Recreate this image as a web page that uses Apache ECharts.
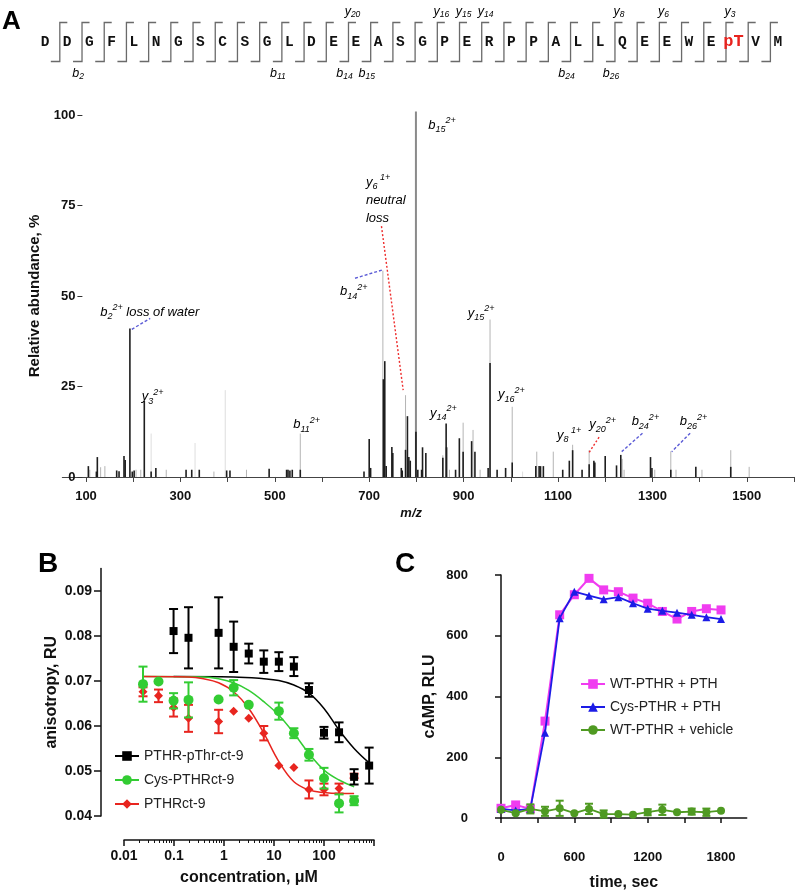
<!DOCTYPE html>
<html>
<head>
<meta charset="utf-8">
<script src="https://cdn.jsdelivr.net/npm/echarts@6/dist/echarts.min.js"></script>
<style>
html,body{margin:0;padding:0;background:#fff;}
#chart{width:800px;height:892px;}
</style>
</head>
<body>
<div id="chart"></div>
<script>
// ===== Panel A: peptide sequence with fragment ions =====
const residues = ['D','D','G','F','L','N','G','S','C','S','G','L','D','E','E','A','S','G','P','E','R','P','P','A','L','L','Q','E','E','W','E','pT','V','M'];
const bIonSites = [2, 11, 14, 15, 24, 26];          // cleavage after residue n
const bIonNumbers = [2, 11, 14, 15, 24, 26];
const yIonSites = [14, 18, 19, 20, 26, 28, 31];
const yIonNumbers = [20, 16, 15, 14, 8, 6, 3];

// ===== Panel A: MS/MS spectrum =====
const darkMz  = [105,122,124,165,170,180.5,183,193,198,202,223.5,238,248,312,324,340,398,405,488,525,528,532,537,554,689,700,703,730,733,736,748,750,768,770,777,781,784,787,799,803,811,813,820,856,863,864,883,891,899,917,924,952,956,971,989,1003,1053,1060,1063,1069,1110,1124,1131,1151,1166,1176,1178,1200,1224,1233,1296,1299,1339,1392,1466];
const darkInt = [3,1.5,5.5,1.8,1.6,5.8,4.7,41,1.5,1.8,21,1.5,2.5,2,2,2,1.8,1.8,2.3,2,2,1.8,2,2,1.5,10.5,2.5,27,32,3,8.3,6.6,2.5,1.8,7.5,16.8,5.5,4.5,12.5,2,2,8.2,6.6,5.3,14.8,8.2,2,10.7,7,9.9,7,2.5,31.5,2,2.5,4,3,3,3,3,2,4.5,7.4,2,3.5,4.5,4,5.8,3.2,6.1,5.5,2.5,2,2.8,2.8];
const greyMz  = [108,131,140,206,216,270,371,440,554,729,777,856,870,899,920,935,956,1003,1055,1090,1131,1166,1236,1240,1305,1339,1350,1405,1466,1505];
const greyInt = [2,2.7,3,2,2,2,1.5,2,12,57,22.6,6,2,15,13,2,43.5,19.4,7,7,8.9,7.4,5,2,2,7.1,2,2,7.4,2.8];
const faintMz  = [238,331,395,1025];
const faintInt = [12,9.4,24,1.5];
const basePeakMz = [799];
const basePeakInt = [101];
const mzTicks  = [100,200,300,400,500,600,700,800,900,1000,1100,1200,1300,1400,1500,1600];
const mzLabels = [100,300,500,700,900,1100,1300,1500];
const abundTicks = [0,25,50,75,100];

// ion annotations: ion, index, charge, extra text, label m/z, label %
const ionLabels = [
  ['b','2','2+',' loss of water',130,45.5],
  ['y','3','2+','',218,22.2],
  ['b','11','2+','',539,14.4],
  ['b','14','2+','',638,51.2],
  ['y','6',' 1+','\nneutral\nloss',693,76.5],
  ['b','15','2+','',825,97.2],
  ['y','15','2+','',909,45.3],
  ['y','16','2+','',973,22.7],
  ['y','14','2+','',829,17.7],
  ['y','8',' 1+','',1098,11.6],
  ['y','20','2+','',1166,14.4],
  ['b','24','2+','',1256,15.3],
  ['b','26','2+','',1358,15.3]
];
// leader lines: ion, from m/z, from %, to m/z, to %
const ionLeaders = [
  ['b',197,40.8,236,43.8],
  ['b',670,54.9,728,57.2],
  ['y',726,69.3,772,24],
  ['y',1187,11,1164,6.4],
  ['b',1279,12.1,1235,7],
  ['b',1380,12.1,1341,7]
];

// ===== Panel B: anisotropy =====
const pThrConc = [0.098,0.195,0.78,1.56,3.125,6.25,12.5,25,50,100,200,400,800];
const pThrMean = [0.0811,0.0796,0.0807,0.0776,0.0761,0.0743,0.0743,0.0732,0.0680,0.0585,0.0586,0.0487,0.0512];
const pThrSem  = [0.0049,0.0068,0.0079,0.0056,0.0022,0.0025,0.0021,0.0021,0.0015,0.0013,0.0022,0.0017,0.0040];
const cysConc = [0.024,0.049,0.098,0.195,0.78,1.56,3.125,12.5,25,50,100,200,400];
const cysMean = [0.0693,0.0699,0.0656,0.0658,0.0659,0.0685,0.0647,0.0633,0.0584,0.0536,0.0484,0.0428,0.0434];
const cysSem  = [0.0039,0,0.0017,0.0039,0,0.0017,0,0.0019,0.0011,0.0013,0.0023,0.0020,0.0010];
const ctConc = [0.024,0.049,0.098,0.195,0.78,1.56,3.125,6.25,12.5,25,50,100,200,400];
const ctMean = [0.0676,0.0667,0.0641,0.0617,0.0610,0.0633,0.0617,0.0584,0.0512,0.0508,0.0459,0.0459,0.0461,0.0489];
const ctSem  = [0.0010,0.0014,0.0020,0.0030,0.0026,0,0,0.0016,0,0,0.0020,0.0013,0.0011,0.0005];
// fitted curves
const pThrFitX = [0.098,1.56,6.25,12.5,25,50,100,200,400,800];
const pThrFitY = [0.0710,0.0709,0.0705,0.0701,0.0691,0.0673,0.0639,0.0591,0.0550,0.0518];
const cysFitX = [0.024,0.39,0.78,1.56,3.125,6.25,12.5,25,50,100,200,400];
const cysFitY = [0.0710,0.0709,0.0705,0.0696,0.0679,0.0654,0.0624,0.0584,0.0539,0.0502,0.0480,0.0465];
const ctFitX = [0.024,0.195,0.39,0.78,1.56,3.125,6.25,12.5,25,50,100,200,400];
const ctFitY = [0.0710,0.0709,0.0705,0.0696,0.0676,0.0639,0.0584,0.0521,0.0476,0.0458,0.0452,0.0450,0.0450];
const concTicks = [0.01,0.1,1,10,100,1000];
const concLabels = [0.01,0.1,1,10,100];
const anisoTicks = [0.04,0.05,0.06,0.07,0.08,0.09];

// ===== Panel C: cAMP time course =====
const timeSec = [0,120,240,360,480,600,720,840,960,1080,1200,1320,1440,1560,1680,1800];
const wtPth  = [32,43,30,319,669,735,789,751,745,724,707,680,655,680,689,685];
const cysPth = [30,25,30,281,658,745,732,720,727,707,689,682,676,669,661,655];
const wtVeh  = [27,16,30,22,32,16,30,13,13,11,19,27,19,21,19,24];
const wtVehSem = [0,0,15,15,25,0,17,12,0,0,10,17,0,10,12,0];
const timeTicks = [0,300,600,900,1200,1500,1800];
const timeLabels = [0,600,1200,1800];
const campTicks = [0,200,400,600,800];

// ---------------------------------------------------------------
const FONT = 'Liberation Sans, Arial, sans-serif';
const BLUE = '#5b5bd6', RED = '#ee2d2d';
const zip = (a, b) => a.map((v, i) => [v, b[i]]);
const zip3 = (a, b, c) => a.map((v, i) => [v, b[i], c[i]]);
const plain = v => String(v);
const minorConc = [];
[0.01,0.1,1,10,100].forEach(d => { for (let k = 2; k <= 9; k++) minorConc.push(+(d * k).toPrecision(3)); });

const richIon = (color) => ({
  i: {fontSize: 13, fontStyle: 'italic', fontFamily: FONT, color: color, lineHeight: 18},
  s: {fontSize: 9, fontStyle: 'italic', fontFamily: FONT, color: color, verticalAlign: 'bottom', lineHeight: 18},
  p: {fontSize: 9, fontStyle: 'italic', fontFamily: FONT, color: color, verticalAlign: 'top', lineHeight: 18}
});
function ionRich(ion, sub, charge, extra) {
  let t = '{i|' + ion + '}{s|' + sub + '}{p|' + charge + '}';
  if (extra.startsWith('\n')) {
    t += extra.split('\n').slice(1).map(w => '\n{i|' + w + '}').join('');
  } else if (extra) {
    t += '{i|' + extra + '}';
  }
  return t;
}

// sequence renderers
function residueRender(params, api) {
  const p = api.coord([api.value(0), 0]);
  const r = residues[params.dataIndex];
  const isP = r === 'pT';
  return {type: 'text', x: p[0], y: p[1], style: {
    text: r, fill: isP ? '#e8231e' : '#111', align: 'center', verticalAlign: 'middle',
    fontFamily: 'Liberation Mono, Courier New, monospace', fontWeight: 'bold', fontSize: isP ? 17 : 14.5}};
}
function bracketRender(params, api) {
  const site = api.value(0);
  const top = api.coord([site + 0.667, 1]);
  const bot = api.coord([site + 0.667, -1]);
  const st = {stroke: '#6a6a6a', lineWidth: 1.3, fill: null};
  return {type: 'polyline', shape: {points: [[bot[0] - 9, bot[1]], [bot[0], bot[1]], [top[0], top[1]], [top[0] + 7.5, top[1]]]}, style: st};
}
function seqIonRender(kind) {
  return function (params, api) {
    const site = api.value(0);
    const n = api.value(1);
    const p = api.coord([site + 0.667, kind === 'b' ? -1 : 1]);
    const col = kind === 'b' ? BLUE : RED;
    return {type: 'text', x: p[0] + (kind === 'b' ? -4 : 4), y: p[1] + (kind === 'b' ? 12 : -11), style: {
      text: '{i|' + kind + '}{s|' + n + '}', rich: {
        i: {fontSize: 12.5, fontStyle: 'italic', fontFamily: FONT, color: col, lineHeight: 16},
        s: {fontSize: 8.5, fontStyle: 'italic', fontFamily: FONT, color: col, verticalAlign: 'bottom', lineHeight: 16}},
      align: 'center', verticalAlign: 'middle'}};
  };
}
function peakRender(color, width) {
  return function (params, api) {
    const top = api.coord([api.value(0), api.value(1)]);
    const base = api.coord([api.value(0), 0]);
    return {type: 'line', shape: {x1: top[0], y1: base[1], x2: top[0], y2: top[1]}, style: {stroke: color, lineWidth: width}};
  };
}
function ionLabelRender(params, api) {
  const d = ionLabels[params.dataIndex];
  const p = api.coord([d[4], d[5]]);
  const col = d[0] === 'b' ? BLUE : RED;
  return {type: 'text', x: p[0], y: p[1], style: {text: ionRich(d[0], d[1], d[2], d[3]), rich: richIon(col), align: 'left', verticalAlign: 'middle'}};
}
function leaderRender(params, api) {
  const d = ionLeaders[params.dataIndex];
  const a = api.coord([d[1], d[2]]);
  const b = api.coord([d[3], d[4]]);
  const col = d[0] === 'b' ? BLUE : RED;
  return {type: 'line', shape: {x1: a[0], y1: a[1], x2: b[0], y2: b[1]},
    style: {stroke: col, lineWidth: 1.4, lineDash: d[0] === 'b' ? [3, 2] : [2, 2]}};
}
function errRender(color, cap) {
  return function (params, api) {
    const x = api.value(0), y = api.value(1), e = api.value(2);
    if (!e) return null;
    const hi = api.coord([x, y + e]);
    const lo = api.coord([x, y - e]);
    const st = {stroke: color, lineWidth: 2};
    return {type: 'group', children: [
      {type: 'line', shape: {x1: hi[0], y1: hi[1], x2: lo[0], y2: lo[1]}, style: st},
      {type: 'line', shape: {x1: hi[0] - cap, y1: hi[1], x2: hi[0] + cap, y2: hi[1]}, style: st},
      {type: 'line', shape: {x1: lo[0] - cap, y1: lo[1], x2: lo[0] + cap, y2: lo[1]}, style: st}
    ]};
  };
}

const axisBold = (size) => ({fontFamily: FONT, fontWeight: 'bold', fontSize: size, color: '#111'});
const blackLine = {show: true, lineStyle: {color: '#111', width: 1.5}};

const BLACK = '#000', GREEN = '#33cc33', CRED = '#e8251f';
const PINK = '#f03cf0', NBLUE = '#1c1ce6', OLIVE = '#4f9a22';

const option = {
  animation: false,
  backgroundColor: '#fff',
  title: [
    {text: 'A', left: 2, top: 9, padding: 0, textStyle: {fontFamily: FONT, fontWeight: 'bold', fontSize: 26, color: '#000'}},
    {text: 'B', left: 38, top: 550, padding: 0, textStyle: {fontFamily: FONT, fontWeight: 'bold', fontSize: 28, color: '#000'}},
    {text: 'C', left: 395, top: 550, padding: 0, textStyle: {fontFamily: FONT, fontWeight: 'bold', fontSize: 28, color: '#000'}}
  ],
  legend: [
    {data: ['PTHR-pThr-ct-9', 'Cys-PTHRct-9', 'PTHRct-9'], orient: 'vertical', left: 114, top: 749,
     itemWidth: 24, itemHeight: 12, itemGap: 10, selectedMode: false, padding: 0,
     textStyle: {fontFamily: FONT, fontSize: 14, color: '#222'}},
    {data: ['WT-PTHR + PTH', 'Cys-PTHR + PTH', 'WT-PTHR + vehicle'], orient: 'vertical', left: 580, top: 677,
     itemWidth: 24, itemHeight: 12, itemGap: 9, selectedMode: false, padding: 0,
     textStyle: {fontFamily: FONT, fontSize: 14, color: '#222'}}
  ],
  grid: [
    {left: 33.9, width: 755, top: 3, height: 78},
    {left: 62.4, width: 731.6, top: 111.4, height: 369.2},
    {left: 124, width: 250, top: 568.5, height: 247.5},
    {left: 501, width: 245.7, top: 575, height: 244}
  ],
  xAxis: [
    {gridIndex: 0, type: 'value', min: 0.5, max: 34.5, show: false},
    {gridIndex: 1, type: 'value', min: 50, max: 1600, position: 'bottom',
     axisLine: {show: true, lineStyle: {color: '#444', width: 1.2}},
     axisTick: {show: true, customValues: mzTicks, length: 5, lineStyle: {color: '#444'}},
     axisLabel: Object.assign({customValues: mzLabels, margin: 9, formatter: plain}, axisBold(13)),
     splitLine: {show: false},
     name: 'm/z', nameLocation: 'middle', nameGap: 26,
     nameTextStyle: {fontFamily: FONT, fontWeight: 'bold', fontStyle: 'italic', fontSize: 13, color: '#111', padding: [0, 34, 0, 0]}},
    {gridIndex: 2, type: 'log', logBase: 10, min: 0.01, max: 1000, offset: 24, position: 'bottom',
     axisLine: blackLine,
     axisTick: {show: true, customValues: concTicks, length: 6, lineStyle: {color: '#111', width: 1.5}},
     axisLabel: Object.assign({customValues: concLabels, margin: 9, formatter: plain}, axisBold(14)),
     splitLine: {show: false}, minorTick: {show: false},
     name: 'concentration, μM', nameLocation: 'middle', nameGap: 30,
     nameTextStyle: axisBold(16)},
    {gridIndex: 2, type: 'log', logBase: 10, min: 0.01, max: 1000, offset: 24, position: 'bottom',
     axisLine: {show: false},
     axisTick: {show: true, customValues: minorConc, length: 3, lineStyle: {color: '#111', width: 1}},
     axisLabel: {show: false}, splitLine: {show: false}},
    {gridIndex: 3, type: 'value', min: 0, max: 2010, offset: 24, position: 'bottom',
     axisLine: blackLine,
     axisTick: {show: true, customValues: timeTicks, length: 5, lineStyle: {color: '#111', width: 1.5}},
     axisLabel: Object.assign({customValues: timeLabels, margin: 9, formatter: plain}, axisBold(13)),
     splitLine: {show: false},
     name: 'time, sec', nameLocation: 'middle', nameGap: 33,
     nameTextStyle: axisBold(16)}
  ],
  yAxis: [
    {gridIndex: 0, type: 'value', min: -2, max: 2, show: false},
    {gridIndex: 1, type: 'value', min: -1, max: 101, offset: -20,
     axisLine: {show: false},
     axisTick: {show: true, customValues: abundTicks, length: 5, lineStyle: {color: '#333'}},
     axisLabel: Object.assign({customValues: abundTicks, margin: 7}, axisBold(13)),
     splitLine: {show: false},
     name: 'Relative abundance, %', nameLocation: 'middle', nameGap: 40, nameRotate: 90,
     nameTextStyle: axisBold(15)},
    {gridIndex: 2, type: 'value', min: 0.04, max: 0.095, offset: 23,
     axisLine: blackLine,
     axisTick: {show: true, customValues: anisoTicks, length: 7, lineStyle: {color: '#111', width: 1.5}},
     axisLabel: Object.assign({customValues: anisoTicks, margin: 9, formatter: v => v.toFixed(2)}, axisBold(14)),
     splitLine: {show: false},
     name: 'anisotropy, RU', nameLocation: 'middle', nameGap: 41, nameRotate: 90,
     nameTextStyle: axisBold(16)},
    {gridIndex: 3, type: 'value', min: 0, max: 800, offset: 24,
     axisLine: blackLine,
     axisTick: {show: true, customValues: campTicks, length: 6, lineStyle: {color: '#111', width: 1.5}},
     axisLabel: Object.assign({customValues: campTicks, margin: 9, formatter: plain}, axisBold(13)),
     splitLine: {show: false},
     name: 'cAMP, RLU', nameLocation: 'middle', nameGap: 39, nameRotate: 90,
     nameTextStyle: axisBold(16)}
  ],
  series: [
    // --- sequence
    {type: 'custom', xAxisIndex: 0, yAxisIndex: 0, renderItem: bracketRender,
     data: residues.slice(0, -1).map((r, i) => [i + 1, 0]), silent: true},
    {type: 'custom', xAxisIndex: 0, yAxisIndex: 0, renderItem: residueRender,
     data: residues.map((r, i) => [i + 1, 0]), silent: true},
    {type: 'custom', xAxisIndex: 0, yAxisIndex: 0, renderItem: seqIonRender('b'),
     data: zip(bIonSites, bIonNumbers), silent: true},
    {type: 'custom', xAxisIndex: 0, yAxisIndex: 0, renderItem: seqIonRender('y'),
     data: zip(yIonSites, yIonNumbers), silent: true},
    // --- spectrum
    {type: 'custom', xAxisIndex: 1, yAxisIndex: 1, renderItem: peakRender('#dedede', 1), data: zip(faintMz, faintInt), silent: true},
    {type: 'custom', xAxisIndex: 1, yAxisIndex: 1, renderItem: peakRender('#b4b4b4', 1), data: zip(greyMz, greyInt), silent: true},
    {type: 'custom', xAxisIndex: 1, yAxisIndex: 1, renderItem: peakRender('#8a8a8a', 2), data: zip(basePeakMz, basePeakInt), silent: true},
    {type: 'custom', xAxisIndex: 1, yAxisIndex: 1, renderItem: peakRender('#1e1e1e', 1.6), data: zip(darkMz, darkInt), silent: true},
    {type: 'custom', xAxisIndex: 1, yAxisIndex: 1, renderItem: leaderRender, data: ionLeaders.map(d => [d[1], d[2]]), silent: true},
    {type: 'custom', xAxisIndex: 1, yAxisIndex: 1, renderItem: ionLabelRender, data: ionLabels.map(d => [d[4], d[5]]), silent: true},
    // --- panel B fitted curves
    {type: 'line', name: 'PTHR-pThr-ct-9', xAxisIndex: 2, yAxisIndex: 2, data: zip(pThrFitX, pThrFitY), smooth: 0.4,
     showSymbol: false, symbol: 'rect', symbolSize: 8, lineStyle: {color: BLACK, width: 1.5}, itemStyle: {color: BLACK}, z: 2},
    {type: 'line', name: 'Cys-PTHRct-9', xAxisIndex: 2, yAxisIndex: 2, data: zip(cysFitX, cysFitY), smooth: 0.4,
     showSymbol: false, symbol: 'circle', symbolSize: 10, lineStyle: {color: GREEN, width: 1.5}, itemStyle: {color: GREEN}, z: 2},
    {type: 'line', name: 'PTHRct-9', xAxisIndex: 2, yAxisIndex: 2, data: zip(ctFitX, ctFitY), smooth: 0.4,
     showSymbol: false, symbol: 'diamond', symbolSize: 9, lineStyle: {color: CRED, width: 1.5}, itemStyle: {color: CRED}, z: 2},
    // --- panel B error bars & points
    {type: 'custom', name: 'PTHRct-9', xAxisIndex: 2, yAxisIndex: 2, renderItem: errRender(CRED, 4.5), data: zip3(ctConc, ctMean, ctSem), z: 3, silent: true},
    {type: 'scatter', name: 'PTHRct-9', xAxisIndex: 2, yAxisIndex: 2, data: zip(ctConc, ctMean), symbol: 'diamond', symbolSize: 9, itemStyle: {color: CRED, opacity: 1}, z: 3},
    {type: 'custom', name: 'Cys-PTHRct-9', xAxisIndex: 2, yAxisIndex: 2, renderItem: errRender(GREEN, 4.5), data: zip3(cysConc, cysMean, cysSem), z: 4, silent: true},
    {type: 'scatter', name: 'Cys-PTHRct-9', xAxisIndex: 2, yAxisIndex: 2, data: zip(cysConc, cysMean), symbol: 'circle', symbolSize: 10, itemStyle: {color: GREEN, opacity: 1}, z: 4},
    {type: 'custom', name: 'PTHR-pThr-ct-9', xAxisIndex: 2, yAxisIndex: 2, renderItem: errRender(BLACK, 4.5), data: zip3(pThrConc, pThrMean, pThrSem), z: 5, silent: true},
    {type: 'scatter', name: 'PTHR-pThr-ct-9', xAxisIndex: 2, yAxisIndex: 2, data: zip(pThrConc, pThrMean), symbol: 'rect', symbolSize: 8, itemStyle: {color: BLACK, opacity: 1}, z: 5},
    // --- panel C
    {type: 'line', name: 'WT-PTHR + PTH', xAxisIndex: 4, yAxisIndex: 3, data: zip(timeSec, wtPth),
     symbol: 'rect', symbolSize: 9, showAllSymbol: true, lineStyle: {color: PINK, width: 2}, itemStyle: {color: PINK}, z: 3},
    {type: 'line', name: 'Cys-PTHR + PTH', xAxisIndex: 4, yAxisIndex: 3, data: zip(timeSec, cysPth),
     symbol: 'triangle', symbolSize: 8, showAllSymbol: true, lineStyle: {color: NBLUE, width: 1.8}, itemStyle: {color: NBLUE}, z: 4},
    {type: 'line', name: 'WT-PTHR + vehicle', xAxisIndex: 4, yAxisIndex: 3, data: zip(timeSec, wtVeh),
     symbol: 'circle', symbolSize: 8, showAllSymbol: true, lineStyle: {color: OLIVE, width: 1.8}, itemStyle: {color: OLIVE}, z: 5},
    {type: 'custom', xAxisIndex: 4, yAxisIndex: 3, renderItem: errRender(OLIVE, 4), data: zip3(timeSec, wtVeh, wtVehSem), z: 5, silent: true}
  ]
};

const chart = echarts.init(document.getElementById('chart'), null, {renderer: 'canvas'});
chart.setOption(option);
</script>
</body>
</html>
